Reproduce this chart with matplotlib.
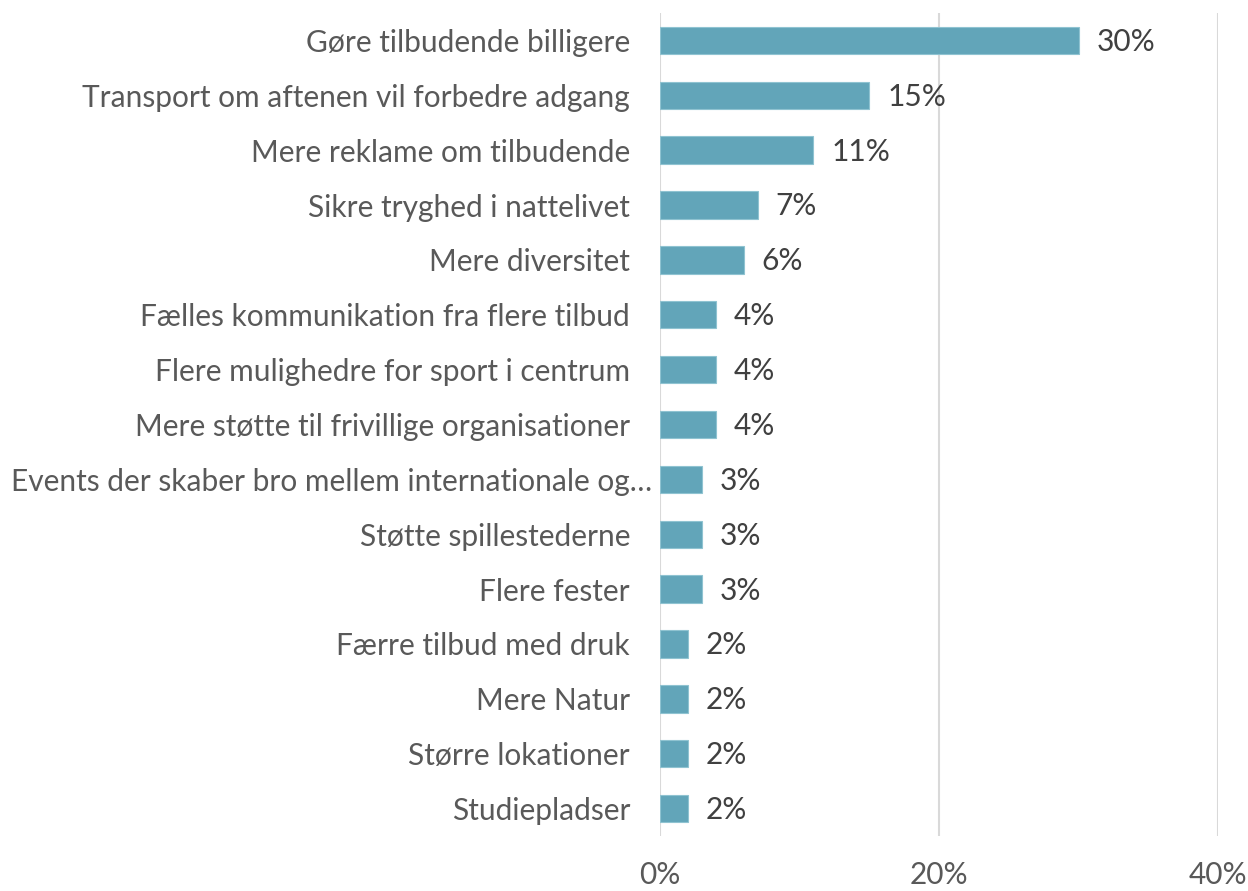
import matplotlib
matplotlib.use("Agg")
import matplotlib.pyplot as plt
import matplotlib.transforms as mtransforms
from matplotlib.ticker import FuncFormatter

plt.rcParams['font.family'] = ['Lato', 'DejaVu Sans']

categories = [
    "Gøre tilbudende billigere",
    "Transport om aftenen vil forbedre adgang",
    "Mere reklame om tilbudende",
    "Sikre tryghed i nattelivet",
    "Mere diversitet",
    "Fælles kommunikation fra flere tilbud",
    "Flere mulighedre for sport i centrum",
    "Mere støtte til frivillige organisationer",
    "Events der skaber bro mellem internationale og…",
    "Støtte spillestederne",
    "Flere fester",
    "Færre tilbud med druk",
    "Mere Natur",
    "Større lokationer",
    "Studiepladser",
]
values = [30, 15, 11, 7, 6, 4, 4, 4, 3, 3, 3, 2, 2, 2, 2]
xticks = [0, 20, 40]

bar_color = '#62A5B9'
label_color = '#595959'
value_color = '#404040'
fs = 21.5

fig = plt.figure(figsize=(12.48, 8.91), dpi=100)
ax = fig.add_axes([0.5288, 0.0617, 0.4472, 0.9237])

ypos = list(range(len(categories)))[::-1]
ax.barh(ypos, values, height=0.5, color=bar_color, edgecolor='#8fc3d1', linewidth=0.8, zorder=3)

for y, v in zip(ypos, values):
    ax.annotate(f"{v}%", (v, y), xytext=(13, -1), textcoords='offset points',
                ha='left', va='center', fontsize=fs, color=value_color)

ax.set_xlim(0, 40)
ax.set_ylim(-0.5, len(categories) - 0.5)
ax.set_xticks(xticks)
ax.xaxis.set_major_formatter(FuncFormatter(lambda x, p: f"{x:.0f}%"))
ax.set_yticks(ypos)
ax.set_yticklabels(categories)
ax.grid(axis='x', color='#d9d9d9', linewidth=1.5, zorder=0)
for s in ax.spines.values():
    s.set_visible(False)
ax.tick_params(axis='both', length=0, labelsize=fs, labelcolor=label_color)
ax.tick_params(axis='y', pad=21.5)
ax.tick_params(axis='x', pad=18)

# the truncated label sits closer to the axis, as in the original
for lbl in ax.get_yticklabels():
    if lbl.get_text().endswith("…"):
        lbl.set_transform(lbl.get_transform() +
                          mtransforms.ScaledTranslation(22 / 100, 0, fig.dpi_scale_trans))

fig.savefig("out.png", dpi=100)
